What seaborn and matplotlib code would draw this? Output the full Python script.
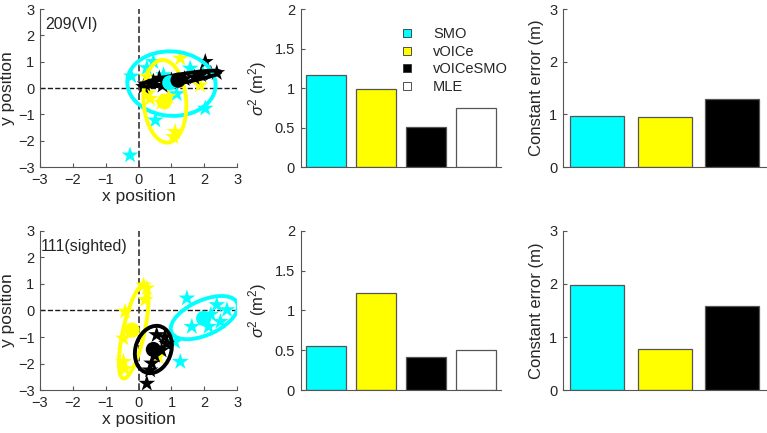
import matplotlib
matplotlib.use("Agg")
import matplotlib.pyplot as plt
import numpy as np
import pandas as pd
import seaborn as sns
from matplotlib.lines import Line2D
from matplotlib.patches import Ellipse

# ---------------------------
# DATA
# ---------------------------
conditions = ["SMO", "vOICe", "vOICeSMO", "MLE"]
colors = ["#00ffff", "#ffff00", "#000000", "#ffffff"]
subjects = ["209(VI)", "111(sighted)"]
label_x = [0.025, 0.005]

# single-trial responses, participant 209
vi_smo_x = [-0.26, 0.45, 0.25, -0.22, 0.76, 1.16, 0.51, 2.03, 1.57, 1.95]
vi_smo_y = [-2.55, 1.0, 0.77, 0.45, 0.5, -0.22, -1.22, -0.77, 0.75, 0.6]
vi_voice_x = [1.27, 0.3, 0.35, 0.91, 0.7, 1.11, 1.06, 1.87, 0.25]
vi_voice_y = [1.13, -0.2, -0.4, -0.32, -0.55, -1.66, -1.85, 0.11, 0.44]
vi_both_x = [2.03, 2.38, 0.63, 0.73, 0.2, 0.45, 1.0, 1.4, 1.7, 1.9, 2.2, 0.15]
vi_both_y = [1.0, 0.58, 0.37, 0.1, 0.15, 0.25, 0.3, 0.35, 0.4, 0.5, 0.55, 0.05]

# single-trial responses, participant 111
si_smo_x = [1.47, 2.38, 2.69, 1.62, 1.27, 1.11, 2.13, 2.49, 2.2]
si_smo_y = [0.46, 0.21, 0.02, -0.61, -1.93, -1.18, -0.61, -0.42, -0.15]
si_voice_x = [0.25, 0.2, -0.41, -0.46, -0.46, -0.42, 0.6, 0.15]
si_voice_y = [0.84, 0.4, -0.04, -1.05, -1.93, -2.2, -1.74, 0.95]
si_both_x = [0.55, 0.8, 0.85, 0.7, 0.4, 0.35, 0.25, 0.5]
si_both_y = [-0.92, -1.0, -1.25, -1.5, -1.99, -2.25, -2.75, -1.7]

# mean position per condition (SMO, vOICe, vOICeSMO)
vi_mean_x = [0.95, 0.78, 1.2]
vi_mean_y = [0.2, -0.52, 0.3]
si_mean_x = [1.98, -0.2, 0.45]
si_mean_y = [-0.3, -0.74, -1.47]

# error ellipses: centre, semi-axes, angle (deg)
vi_ell_cx = [1.0, 0.8, 1.27]
vi_ell_cy = [0.17, -0.5, 0.36]
vi_ell_a = [1.35, 0.65, 1.24]
vi_ell_b = [1.22, 1.57, 0.16]
vi_ell_ang = [-12, 3, 12]
si_ell_cx = [2.0, -0.15, 0.45]
si_ell_cy = [-0.27, -0.8, -1.47]
si_ell_a = [1.15, 1.79, 0.55]
si_ell_b = [0.62, 0.33, 0.9]
si_ell_ang = [33, 80, -10]

# variance and constant error
vi_var = [1.17, 0.99, 0.51, 0.75]
si_var = [0.55, 1.22, 0.42, 0.5]
vi_ce = [0.98, 0.96, 1.3]
si_ce = [1.98, 0.78, 1.59]

# ---------------------------
# STYLE
# ---------------------------
sns.set_theme(style="white")
plt.rcParams["font.family"] = ["Liberation Sans", "DejaVu Sans"]
plt.rcParams["mathtext.fontset"] = "custom"
plt.rcParams["mathtext.rm"] = "Liberation Sans"
plt.rcParams["mathtext.it"] = "Liberation Sans:italic"
axcol = "#555555"
txtcol = "#262626"

fig = plt.figure(figsize=(7.67, 4.33), dpi=100)


def style_axes(ax):
    sns.despine(ax=ax)
    for s in ["left", "bottom"]:
        ax.spines[s].set_color(axcol)
        ax.spines[s].set_linewidth(0.8)
    ax.tick_params(direction="in", length=3, width=0.8, color=axcol,
                   labelsize=10.5, labelcolor=txtcol, pad=4,
                   bottom=True, left=True)


def scatter_panel(ax, xs, ys, mx, my, ell, label, lx):
    ax.axhline(0, color="k", ls="--", lw=1, zorder=1)
    ax.axvline(0, color="#444444", ls="--", lw=1.3, zorder=1)
    for x, y, c in zip(xs, ys, colors[:3]):
        sns.scatterplot(x=x, y=y, ax=ax, marker="*", s=160, color=c,
                        edgecolor="none", zorder=2)
    for cx, cy, a, b, ang, c in zip(*ell, colors[:3]):
        ax.add_patch(Ellipse((cx, cy), 2 * a, 2 * b, angle=ang, fill=False,
                             ec=c, lw=2.8, zorder=3))
    for x, y, c in zip(mx, my, colors[:3]):
        sns.scatterplot(x=[x], y=[y], ax=ax, marker="o", s=120, color=c,
                        edgecolor="none", zorder=4)
    ax.set_xlim(-3, 3)
    ax.set_ylim(-3, 3)
    ax.set_xticks(range(-3, 4))
    ax.set_yticks(range(-3, 4))
    ax.set_xlabel("x position", fontsize=12.5, color=txtcol, labelpad=2)
    ax.set_ylabel("y position", fontsize=12.5, color=txtcol, labelpad=2)
    ax.text(lx, 0.9, label, transform=ax.transAxes, fontsize=11.5,
            color=txtcol, va="center")
    style_axes(ax)


def bar_panel(ax, vals, ymax, yticks, ylabel):
    df = pd.DataFrame({"cond": conditions[:len(vals)], "val": vals})
    sns.barplot(data=df, x="cond", y="val", hue="cond",
                palette=colors[:len(vals)], ax=ax, legend=False,
                edgecolor=axcol, linewidth=0.9, width=0.8, saturation=1)
    ax.set_xlim(-0.5, len(vals) - 0.5)
    ax.set_ylim(0, ymax)
    ax.set_yticks(yticks)
    ax.set_yticklabels([f"{t:g}" for t in yticks])
    ax.set_xticklabels([])
    ax.set_xlabel("")
    ax.set_ylabel(ylabel, fontsize=12, color=txtcol, labelpad=4)
    style_axes(ax)
    ax.tick_params(axis="x", length=2)


# axes positions [left, bottom, width, height] in figure fraction
rows = [(0.614, 0.365), (0.099, 0.368)]
data_rows = [
    ((vi_smo_x, vi_voice_x, vi_both_x), (vi_smo_y, vi_voice_y, vi_both_y),
     vi_mean_x, vi_mean_y,
     (vi_ell_cx, vi_ell_cy, vi_ell_a, vi_ell_b, vi_ell_ang), vi_var, vi_ce),
    ((si_smo_x, si_voice_x, si_both_x), (si_smo_y, si_voice_y, si_both_y),
     si_mean_x, si_mean_y,
     (si_ell_cx, si_ell_cy, si_ell_a, si_ell_b, si_ell_ang), si_var, si_ce),
]

for i, ((bottom, height), d) in enumerate(zip(rows, data_rows)):
    xs, ys, mx, my, ell, var, ce = d
    ax1 = fig.add_axes([0.0522, bottom, 0.257, height])
    scatter_panel(ax1, xs, ys, mx, my, ell, subjects[i], label_x[i])
    ax2 = fig.add_axes([0.392, bottom, 0.261, height])
    bar_panel(ax2, var, 2, [0, 0.5, 1, 1.5, 2], r"$\sigma^2$ (m$^2$)")
    ax3 = fig.add_axes([0.734, bottom, 0.265, height])
    bar_panel(ax3, ce, 3, [0, 1, 2, 3], "Constant error (m)")
    if i == 0:
        handles = [Line2D([], [], ls="none", marker="s", ms=6, mfc=c,
                          mec="#333333", mew=0.6) for c in colors]
        ax2.legend(handles, conditions, frameon=False, fontsize=10.5,
                   loc="upper left", bbox_to_anchor=(0.42, 0.97),
                   handlelength=1.2, handletextpad=1.2, labelspacing=0.25)

fig.savefig("out.png", dpi=100)
